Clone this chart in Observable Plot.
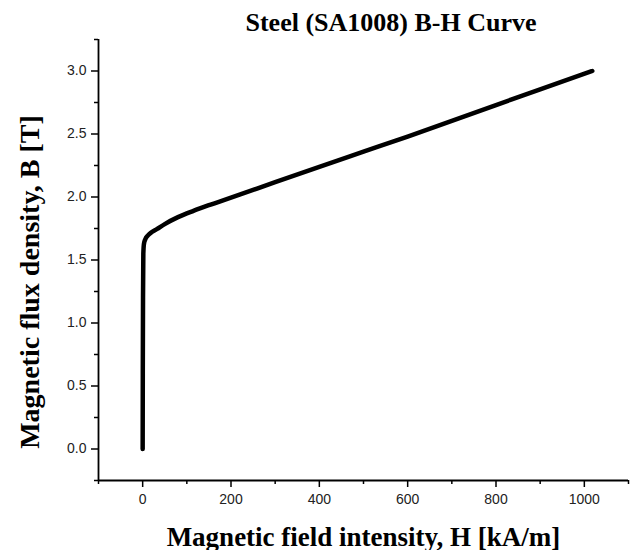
<!DOCTYPE html>
<html><head><meta charset="utf-8">
<script src="https://cdn.jsdelivr.net/npm/d3@7"></script>
<script src="https://cdn.jsdelivr.net/npm/@observablehq/plot@0.6"></script>
<style>
body{margin:0;background:#fff;}
#title{width:633px;height:38px;box-sizing:border-box;padding-top:5px;padding-left:149px;text-align:center;font-family:"Liberation Serif",serif;font-weight:bold;font-size:26px;line-height:36px;color:#000;white-space:nowrap;}
#chart svg{display:block;}
</style>
</head><body>
<div id="title"></div>
<div id="chart"></div>
<script>
const titleText = "Steel (SA1008) B-H Curve";
const xLabel = "Magnetic field intensity, H [kA/m]";
const yLabel = "Magnetic flux density, B [T]";
// B-H curve readings: H in kA/m, B in T
const H = [0, 0.3, 0.8, 1.5, 3, 6, 12, 20, 32, 50, 80, 115, 150, 200, 300, 400, 500, 600, 700, 800, 900, 1018];
const B = [0, 0.6, 1.2, 1.55, 1.63, 1.665, 1.695, 1.72, 1.745, 1.785, 1.84, 1.89, 1.935, 1.995, 2.118, 2.24, 2.36, 2.48, 2.605, 2.73, 2.855, 3.0];
const xMajor = [0, 200, 400, 600, 800, 1000];
const xMinor = [-100, 100, 300, 500, 700, 900, 1100];
const yMajor = [0, 0.5, 1.0, 1.5, 2.0, 2.5, 3.0];
const yMinor = [-0.25, 0.25, 0.75, 1.25, 1.75, 2.25, 2.75, 3.25];

document.getElementById("title").textContent = titleText;
const data = H.map((h, i) => ({H: h, B: B[i]}));

const plot = Plot.plot({
  width: 633,
  height: 512,
  marginTop: 1,
  marginRight: 5,
  marginBottom: 70,
  marginLeft: 98,
  style: {fontFamily: "Liberation Sans, Arial, sans-serif", fontSize: "14px", color: "#000", background: "#fff"},
  x: {domain: [-100, 1100], label: null},
  y: {domain: [-0.25, 3.25], label: null},
  marks: [
    Plot.axisX({ticks: xMinor, tickSize: 4, text: null, label: null, strokeWidth: 1.5}),
    Plot.axisX({ticks: xMajor, tickSize: 7, tickPadding: 7, tickFormat: d => String(d), label: null, strokeWidth: 1.5, fill: "#222"}),
    Plot.axisY({ticks: yMinor, tickSize: 4, text: null, label: null, strokeWidth: 1.5}),
    Plot.axisY({ticks: yMajor, tickSize: 7, tickPadding: 5, tickFormat: d3.format(".1f"), label: null, strokeWidth: 1.5, fill: "#222"}),
    Plot.ruleX([-100], {strokeWidth: 1.8}),
    Plot.ruleY([-0.25], {strokeWidth: 1.8}),
    Plot.line(data, {x: "H", y: "B", stroke: "#000", strokeWidth: 4.5, curve: "monotone-x", strokeLinecap: "round", strokeLinejoin: "round"}),
    Plot.text([xLabel], {frameAnchor: "bottom", dy: 65, lineAnchor: "bottom", textAnchor: "middle", fontFamily: "Liberation Serif, serif", fontWeight: "bold", fontSize: 27, fill: "#000"}),
    Plot.text([yLabel], {frameAnchor: "left", dx: -60, dy: 22, rotate: -90, lineAnchor: "bottom", textAnchor: "middle", fontFamily: "Liberation Serif, serif", fontWeight: "bold", fontSize: 28, fill: "#000"})
  ]
});
document.getElementById("chart").appendChild(plot);
</script>
</body></html>
